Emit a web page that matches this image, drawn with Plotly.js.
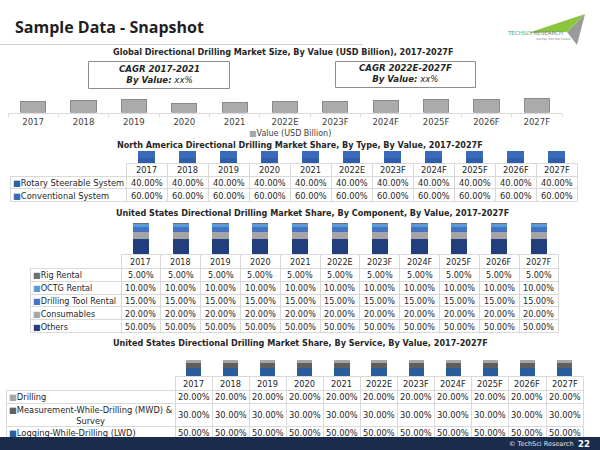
<!DOCTYPE html>
<html><head><meta charset="utf-8">
<script src="https://cdn.plot.ly/plotly-3.0.1.min.js"></script>
<style>html,body{margin:0;padding:0;background:#fff}#chart{width:600px;height:450px}</style>
</head><body><div id="chart"></div>
<script>
// ---------- data ----------
const years = ['2017','2018','2019','2020','2021','2022E','2023F','2024F','2025F','2026F','2027F'];
const globalValue = [5.5, 6.0, 6.25, 4.3, 5.0, 5.2, 5.5, 6.0, 6.25, 6.5, 6.75];

const naLabels = ['Rotary Steerable System', 'Conventional System'];
const naRotary = [40, 40, 40, 40, 40, 40, 40, 40, 40, 40, 40];
const naConventional = [60, 60, 60, 60, 60, 60, 60, 60, 60, 60, 60];

const usLabels = ['Rig Rental', 'OCTG Rental', 'Drilling Tool Rental', 'Consumables', 'Others'];
const usRigRental = [5, 5, 5, 5, 5, 5, 5, 5, 5, 5, 5];
const usOctgRental = [10, 10, 10, 10, 10, 10, 10, 10, 10, 10, 10];
const usDrillingToolRental = [15, 15, 15, 15, 15, 15, 15, 15, 15, 15, 15];
const usConsumables = [20, 20, 20, 20, 20, 20, 20, 20, 20, 20, 20];
const usOthers = [50, 50, 50, 50, 50, 50, 50, 50, 50, 50, 50];

const svcLabels = ['Drilling', 'Measurement-While-Drilling (MWD) &<br>Survey', 'Logging-While-Drilling (LWD)'];
const svcDrilling = [20, 20, 20, 20, 20, 20, 20, 20, 20, 20, 20];
const svcMwd = [30, 30, 30, 30, 30, 30, 30, 30, 30, 30, 30];
const svcLwd = [50, 50, 50, 50, 50, 50, 50, 50, 50, 50, 50];

// ---------- helpers ----------
const W = 600, H = 450;
const F = 'DejaVu Sans, Verdana, sans-serif';
const TXT = '#262626';
const GRID = '#d9d9d9';
const px = v => v / W;
const py = v => 1 - v / H;
const crisp = v => Math.round(v - 0.5) + 0.5;

const shapes = [];
const annotations = [];

function hline(x0, x1, y, color, w) {
  shapes.push({type:'line', xref:'paper', yref:'paper', x0:px(x0), x1:px(x1), y0:py(crisp(y)), y1:py(crisp(y)),
               line:{color:color || GRID, width:w || 1}});
}
function vline(x, y0, y1, color) {
  shapes.push({type:'line', xref:'paper', yref:'paper', x0:px(crisp(x)), x1:px(crisp(x)), y0:py(y0), y1:py(y1),
               line:{color:color || GRID, width:1}});
}
function text(x, y, t, opts) {
  opts = opts || {};
  annotations.push({xref:'paper', yref:'paper', x:px(x), y:py(y), text:t, showarrow:false,
    xanchor:opts.xanchor || 'center', yanchor:opts.yanchor || 'middle', align:opts.align || 'center',
    font:{family:opts.family || F, size:opts.size || 8, color:opts.color || TXT, weight:opts.weight},
    borderpad:0});
}
function poly(points, color) {
  const d = points.map((p, i) => (i ? 'L' : 'M') + px(p[0]) + ',' + py(p[1])).join(' ') + ' Z';
  shapes.push({type:'path', xref:'paper', yref:'paper', path:d, fillcolor:color, line:{width:0}, layer:'above'});
}

function buildTable(t) {
  const n = years.length;
  const dataLeft = t.left + t.labelW;
  const right = dataLeft + n * t.colW;
  const rowTops = [t.top + t.headerH];
  t.rowHs.forEach(h => rowTops.push(rowTops[rowTops.length - 1] + h));
  const bottom = rowTops[rowTops.length - 1];
  hline(dataLeft, right, t.top);
  rowTops.forEach(y => hline(t.left, right, y));
  vline(t.left, rowTops[0], bottom);
  for (let c = 0; c <= n; c++) vline(dataLeft + c * t.colW, t.top, bottom);
  years.forEach((yr, c) => text(dataLeft + (c + 0.5) * t.colW, t.top + t.headerH / 2 + 0.5, yr, {size:t.fontSize}));
  t.series.forEach((arr, r) => {
    const yc = rowTops[r] + t.rowHs[r] / 2 + 0.5;
    const lab = '<span style="color:' + t.colors[r] + '">■</span>' + t.labels[r];
    if (t.labels[r].indexOf('<br>') >= 0) {
      text(t.left + t.labelW / 2, yc, lab, {size:t.fontSize, align:'center'});
    } else {
      text(t.left + 2, yc, lab, {size:t.fontSize, xanchor:'left', align:'left'});
    }
    arr.forEach((v, c) => text(dataLeft + (c + 0.5) * t.colW, yc, v.toFixed(2) + '%', {size:t.fontSize}));
  });
  return {dataLeft, right};
}

// ---------- header ----------
text(14, 27, 'Sample Data - Snapshot', {xanchor:'left', size:16, family:'Open Sans, sans-serif', weight:700, color:'#1f1f1f'});
hline(0, 363, 44, '#d0d0d0');
// logo
poly([[528, 33], [585, 14], [567, 32]], '#8cc63f');
poly([[567, 32], [585, 14], [577, 45]], '#9a9a9a');
text(535, 33, '<span style="color:#3a9d7a">TECHSCI</span> <span style="color:#7f7f7f">RESEARCH</span>', {size:5.5});
text(553, 39.5, 'Journey into the Future', {size:3, color:'#7f7f7f'});

// ---------- chart 1 ----------
text(283, 52, '<b>Global Directional Drilling Market Size, By Value (USD Billion), 2017-2027F</b>', {size:8.1});
shapes.push({type:'rect', xref:'paper', yref:'paper', x0:px(88.5), x1:px(229.5), y0:py(61.5), y1:py(88.5), line:{color:'#8c8c8c', width:1}});
shapes.push({type:'rect', xref:'paper', yref:'paper', x0:px(335.5), x1:px(475.5), y0:py(61.5), y1:py(87.5), line:{color:'#8c8c8c', width:1}});
text(159, 75, '<b><i>CAGR 2017-2021</i></b><br><b><i>By Value:</i></b><i> xx%</i>', {size:8.6});
text(405, 73.5, '<b><i>CAGR 2022E-2027F</i></b><br><b><i>By Value:</i></b><i> xx%</i>', {size:8.6});
text(248, 133.5, '<span style="color:#a6a6a6">■</span>Value (USD Billion)', {xanchor:'left', size:8, color:'#404040'});

// ---------- chart 2 ----------
text(300, 144.5, '<b>North America Directional Drilling Market Share, By Type, By Value, 2017-2027F</b>', {size:8.1});
const naColors = ['#305ea9', '#3a6abb'];
const t2 = buildTable({left:10, labelW:116, colW:41, top:163, headerH:13.3, rowHs:[12.6, 12.6],
  labels:naLabels, colors:naColors, series:[naRotary, naConventional], fontSize:8.3});

// ---------- chart 3 ----------
text(313, 213, '<b>United States Directional Drilling Market Share, By Component, By Value, 2017-2027F</b>', {size:8.1});
const usColors = ['#6f6f6f', '#5b9bd5', '#4472c4', '#a5a5a5', '#203f7c'];
const t3 = buildTable({left:30, labelW:91, colW:39.8, top:254.5, headerH:14, rowHs:[12.8, 12.8, 12.8, 12.8, 12.8],
  labels:usLabels, colors:usColors, series:[usRigRental, usOctgRental, usDrillingToolRental, usConsumables, usOthers], fontSize:8.1});

// ---------- chart 4 ----------
text(300, 343, '<b>United States Directional Drilling Market Share, By Service, By Value, 2017-2027F</b>', {size:8.1});
const svcColors = ['#a6a6a6', '#5f5f5f', '#2b5c9c'];
const t4 = buildTable({left:6, labelW:169, colW:37.1, top:376.5, headerH:13.5, rowHs:[13, 23, 13],
  labels:svcLabels, colors:svcColors, series:[svcDrilling, svcMwd, svcLwd], fontSize:8.3});

// ---------- footer ----------
shapes.push({type:'rect', xref:'paper', yref:'paper', x0:0, x1:1, y0:0, y1:py(437), fillcolor:'#1b2b4b', line:{width:0}, layer:'above'});
text(541, 444, '© TechSci Research', {size:6.5, color:'#e6e6e6'});
text(584, 443.5, '<b>22</b>', {size:8.5, color:'#ffffff'});

// ---------- traces ----------
const traces = [];
traces.push({type:'bar', x:years, y:globalValue, xaxis:'x', yaxis:'y', width:0.5, name:'Value (USD Billion)',
  marker:{color:'#ababab', line:{color:'#8a8a8a', width:1}}, hoverinfo:'x+y'});
[naRotary, naConventional].forEach((s, i) => traces.push({type:'bar', x:years, y:s, xaxis:'x2', yaxis:'y2', width:0.42,
  name:naLabels[i], marker:{color:naColors[i], line:{width:0}}}));
[usOthers, usConsumables, usDrillingToolRental, usOctgRental, usRigRental].forEach((s, i) => {
  const idx = 4 - i;
  traces.push({type:'bar', x:years, y:s, xaxis:'x3', yaxis:'y3', width:0.41, name:usLabels[idx],
    marker:{color:usColors[idx], line:{width:0}}});
});
[svcLwd, svcMwd, svcDrilling].forEach((s, i) => {
  const idx = 2 - i;
  traces.push({type:'bar', x:years, y:s, xaxis:'x4', yaxis:'y4', width:0.41, name:svcLabels[idx],
    marker:{color:svcColors[idx], line:{width:0}}});
});

const hiddenX = {type:'category', visible:false, fixedrange:true};
const hiddenY = {visible:false, range:[0, 100], fixedrange:true};
const layout = {
  width:W, height:H, margin:{l:0, r:0, t:0, b:0}, paper_bgcolor:'#fff', plot_bgcolor:'rgba(0,0,0,0)',
  showlegend:false, barmode:'stack', font:{family:F, color:TXT},
  xaxis:{type:'category', domain:[px(8), px(562)], showline:true, linecolor:'#d9d9d9', linewidth:1,
    ticks:'outside', tickson:'boundaries', ticklen:3, tickcolor:'#d9d9d9', showgrid:false, zeroline:false,
    ticklabelstandoff:1,
    tickfont:{family:F, size:8.5, color:'#404040'}, anchor:'y', fixedrange:true},
  yaxis:{domain:[py(112.5), py(95)], range:[0, 8.5], visible:false, anchor:'x', fixedrange:true},
  xaxis2:Object.assign({}, hiddenX, {domain:[px(t2.dataLeft), px(t2.right)], anchor:'y2'}),
  yaxis2:Object.assign({}, hiddenY, {domain:[py(163), py(151)], anchor:'x2'}),
  xaxis3:Object.assign({}, hiddenX, {domain:[px(t3.dataLeft), px(t3.right)], anchor:'y3'}),
  yaxis3:Object.assign({}, hiddenY, {domain:[py(254.5), py(222.5)], anchor:'x3'}),
  xaxis4:Object.assign({}, hiddenX, {domain:[px(t4.dataLeft), px(t4.right)], anchor:'y4'}),
  yaxis4:Object.assign({}, hiddenY, {domain:[py(376.5), py(360)], anchor:'x4'}),
  shapes:shapes, annotations:annotations
};
Plotly.newPlot('chart', traces, layout, {displayModeBar:false, staticPlot:true});
</script>
</body></html>
